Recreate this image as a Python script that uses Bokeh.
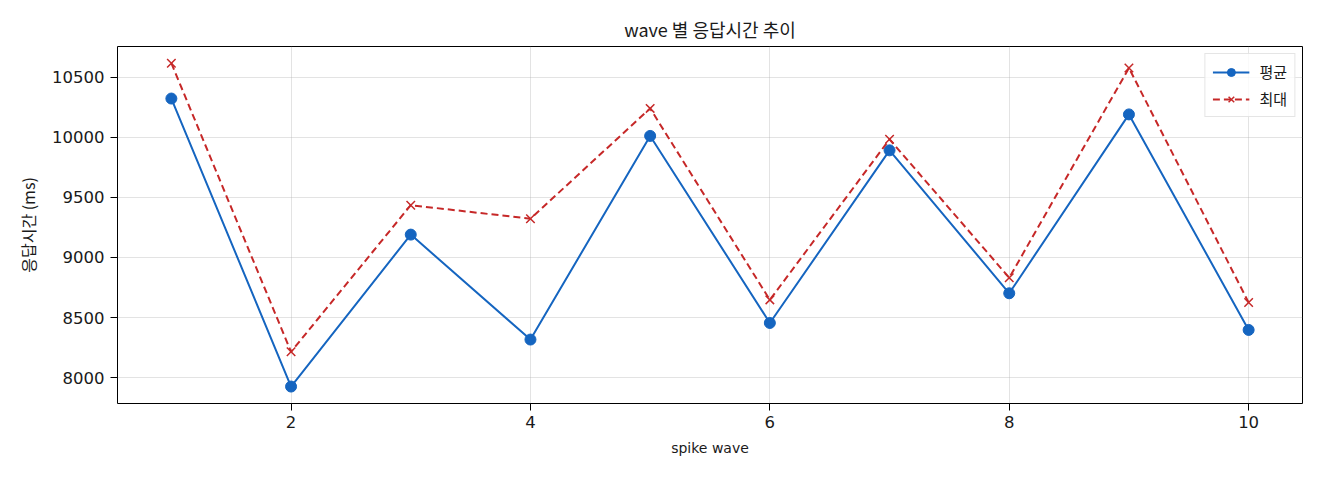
from bokeh.plotting import figure
from bokeh.models import FixedTicker, Range1d, Legend, LegendItem
from bokeh.embed import file_html
from bokeh.resources import INLINE

waves = [1, 2, 3, 4, 5, 6, 7, 8, 9, 10]
avg_ms = [10322, 7926, 9190, 8317, 10011, 8455, 9891, 8702, 10190, 8397]
max_ms = [10616, 8215, 9435, 9322, 10240, 8647, 9983, 8831, 10576, 8625]

x_ticks = [2, 4, 6, 8, 10]
y_ticks = [8000, 8500, 9000, 9500, 10000, 10500]

KR = "Noto Sans CJK KR"
LAT = "DejaVu Sans"
BLUE = "#1565c0"
RED = "#c62828"
INK = "#1a1a1a"

p = figure(frame_width=1185, frame_height=357,
           min_border_left=117, min_border_right=10,
           min_border_top=46, min_border_bottom=69,
           x_range=Range1d(0.55, 10.45), y_range=Range1d(7785, 10755),
           title="wave 별 응답시간 추이",
           x_axis_label="spike wave", y_axis_label="응답시간 (ms)",
           output_backend="svg", toolbar_location=None)

p.title.align = "center"
p.title.text_font = KR
p.title.text_font_size = "18px"
p.title.text_font_style = "normal"
p.title.text_color = INK
p.title.offset = 0

p.outline_line_color = "black"
p.outline_line_width = 1
p.outline_line_alpha = 1

for ax in (p.xaxis[0], p.yaxis[0]):
    ax.axis_line_color = None
    ax.minor_tick_line_color = None
    ax.major_tick_out = 7
    ax.major_tick_in = 0
    ax.major_tick_line_color = "black"
    ax.major_label_text_font = LAT
    ax.major_label_text_font_size = "16.5px"
    ax.major_label_text_color = INK
    ax.axis_label_text_font_style = "normal"
    ax.axis_label_text_color = INK

p.xaxis.ticker = FixedTicker(ticks=x_ticks)
p.yaxis.ticker = FixedTicker(ticks=y_ticks)
p.xaxis.major_label_standoff = 5
p.yaxis.major_label_standoff = 6
p.xaxis.axis_label_text_font = LAT
p.xaxis.axis_label_text_font_size = "14px"
p.xaxis.axis_label_standoff = 9
p.yaxis.axis_label_text_font = KR
p.yaxis.axis_label_text_font_size = "16px"
p.yaxis.axis_label_standoff = 9

p.grid.grid_line_color = "#b0b0b0"
p.grid.grid_line_alpha = 0.35
p.xgrid.ticker = FixedTicker(ticks=x_ticks)
p.ygrid.ticker = FixedTicker(ticks=y_ticks)

l1 = p.line(waves, avg_ms, line_color=BLUE, line_width=2)
s1 = p.scatter(waves, avg_ms, marker="circle", size=11, fill_color=BLUE, line_color=BLUE)
l2 = p.line(waves, max_ms, line_color=RED, line_width=2, line_dash="7 4")
s2 = p.scatter(waves, max_ms, marker="x", size=12, line_color=RED, line_width=1.5)

legend = Legend(items=[LegendItem(label="평균", renderers=[l1, s1]),
                       LegendItem(label="최대", renderers=[l2, s2])],
                location="top_right")
legend.label_text_font = KR
legend.label_text_font_size = "15px"
legend.label_text_color = INK
legend.glyph_width = 37
legend.glyph_height = 20
legend.label_standoff = 10
legend.spacing = 6
legend.padding = 7
legend.margin = 7
legend.border_line_color = "#cccccc"
legend.border_line_width = 1
legend.background_fill_alpha = 0.8
p.add_layout(legend)

open("out.html", "w").write(file_html(p, INLINE))
